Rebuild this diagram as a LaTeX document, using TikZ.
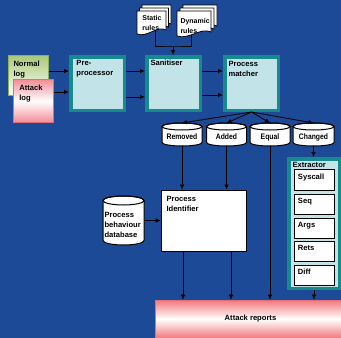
\documentclass[tikz,border=0pt]{standalone}
\usepackage{fontspec}
\setmainfont{Liberation Sans}
\newfontfamily\narrowfont[FakeStretch=0.85]{Liberation Sans}
\usetikzlibrary{arrows.meta,calc}
\definecolor{bg}{RGB}{28,74,150}
\definecolor{tealb}{RGB}{22,138,140}
\definecolor{lcyan}{RGB}{194,228,232}
\definecolor{oliveb}{RGB}{140,178,84}
\definecolor{lgreen}{RGB}{170,200,120}
\definecolor{pinkb}{RGB}{226,110,120}
\definecolor{pinkf}{RGB}{244,140,150}
\definecolor{pinkr}{RGB}{242,120,124}
\newcommand\mydoc[4]{%
  \filldraw[fill=white,draw=black,line width=0.8pt] (#1,#2) -- (#1+#3,#2) -- (#1+#3,#2+#4-5)
   .. controls (#1+0.7*#3,#2+#4-10) and (#1+0.35*#3,#2+#4+3) .. (#1,#2+#4-1) -- cycle;}
\newcommand\mycyl[8]{% name, cx, cy, halfw, halfh, ry, label, label y
  \filldraw[fill=white,draw=black,line width=1pt] (#2-#4,#3-#5+#6) -- (#2-#4,#3+#5-#6)
    arc[start angle=180,end angle=0,x radius=#4,y radius=#6] -- (#2+#4,#3-#5+#6)
    arc[start angle=0,end angle=-180,x radius=#4,y radius=#6] -- cycle;
  \draw[line width=1pt] (#2,#3-#5+#6) ellipse[x radius=#4,y radius=#6];
  \node[inner sep=0pt,outer sep=0pt,minimum width={2*#4pt},minimum height={2*#5pt}] (#1) at (#2,#3) {};
  \node[inner sep=0pt,font=\narrowfont\bfseries\fontsize{8}{9}\selectfont,align=center] (#1t) at (#2,#8) {#7};}
\begin{document}
\begin{tikzpicture}[x=1pt,y=-1pt,
  every node/.style={font=\bfseries\fontsize{7.6}{10}\selectfont},
  txt/.style={anchor=north west,inner sep=0pt,outer sep=0pt,align=left},
  small/.style={font=\bfseries\fontsize{7}{10}\selectfont},
  tealbox/.style={draw=tealb,line width=3.5pt,fill=lcyan,inner sep=0pt,minimum width=53.5pt,minimum height=53.5pt},
  subbox/.style={draw=black,fill=white,line width=1pt,inner sep=0pt,minimum width=40pt},
  arr/.style={-{Latex[length=5pt,width=4.5pt]},line width=0.8pt,black},
  ln/.style={line width=0.8pt,black}]
\fill[bg] (0,0) rectangle (341,338);
\useasboundingbox (0,0) rectangle (341,338);
% rules connector
\coordinate (sr) at (155,25);
\coordinate (dr) at (191,25);
\coordinate (jn) at (173,46);
\draw[ln] (sr) |- (jn) -| (dr);
% documents
\mydoc{142}{5}{29}{24}
\mydoc{139.5}{8}{29}{24}
\mydoc{137}{11}{29}{24}
\node[txt,small] (srt) at (142.5,15.5) {Static\\rules};
\mydoc{183}{5}{34}{26}
\mydoc{180}{8}{34}{26}
\mydoc{177}{11}{34}{26}
\node[txt,small] (drt) at (180.5,18) {Dynamic\\rules};
% boxes
\node[tealbox] (pre) at (97.5,83.5) {};
\node[tealbox] (san) at (173.5,83.5) {};
\node[tealbox] (pm) at (251.5,83.5) {};
\node[txt] (pret) at (76.5,60) {Pre-\\processor};
\node[txt] (sant) at (150.5,60) {Sanitiser};
\node[txt] (pmt) at (228.5,61) {Process\\matcher};
\draw[arr] (jn) -- (jn |- san.north);
% logs
\node[draw=oliveb,line width=1pt,top color=lgreen,bottom color=white,minimum width=40pt,minimum height=40pt,inner sep=0pt] (nlog) at (28.5,75.5) {};
\node[txt] (nlogt) at (13.5,60.5) {Normal\\log};
\node[draw=pinkb,line width=1pt,top color=pinkf,bottom color=pinkf,middle color=white,minimum width=40pt,minimum height=43pt,inner sep=0pt] (alog) at (33.5,101) {};
\node[txt] (alogt) at (19.3,85.3) {Attack\\log};
\draw[arr] (nlog.east |- 0,71) -- (pre.west |- 0,71);
\draw[arr] (alog.east |- 0,92) -- (pre.west |- 0,92);
\draw[arr] (pre.east |- 0,71) -- (san.west |- 0,71);
\draw[arr] (pre.east |- 0,97) -- (san.west |- 0,97);
\draw[arr] (san.east |- 0,71) -- (pm.west |- 0,71);
\draw[arr] (san.east |- 0,95) -- (pm.west |- 0,95);
% cylinders
\mycyl{rem}{182}{134.5}{20}{11.5}{3.5}{Removed}{137}
\mycyl{add}{226.5}{134.5}{20}{11.5}{3.5}{Added}{137}
\mycyl{equ}{270}{134.5}{20}{11.5}{3.5}{Equal}{137}
\mycyl{chg}{313.5}{134.5}{20.5}{11.5}{3.5}{Changed}{137}
\foreach \c in {rem,add,equ,chg} \draw[arr] (pm.south) -- (\c.north);
% process identifier
\node[draw=black,fill=white,line width=0.8pt,minimum width=85pt,minimum height=61pt,inner sep=0pt] (pid) at (203.5,220.5) {};
\node[txt] (pidt) at (166.5,196.5) {Process\\Identifier};
\mycyl{db}{123.5}{220.5}{20.5}{24.5}{4.5}{}{226}
\node[txt] (dbt) at (104.5,212) {Process\\behaviour\\database};
\draw[arr] (db.east) -- (pid.west);
% extractor
\node[draw=tealb,line width=3.5pt,fill=lcyan,minimum width=50.5pt,minimum height=129.5pt,inner sep=0pt] (ext) at (314,223.5) {};
\node[txt] (extt) at (292.5,162.5) {Extractor};
\node[subbox,minimum height=21pt] (sys) at (314.5,179.5) {};
\node[subbox,minimum height=20pt] (seq) at (314.5,204) {};
\node[subbox,minimum height=20pt] (args) at (314.5,228) {};
\node[subbox,minimum height=20pt] (rets) at (314.5,251.5) {};
\node[subbox,minimum height=20pt] (diff) at (314.5,275) {};
\node[txt] (syst) at (298,173.5) {Syscall};
\node[txt] (seqt) at (298,198) {Seq};
\node[txt] (argst) at (298,222) {Args};
\node[txt] (retst) at (298,245.5) {Rets};
\node[txt] (difft) at (298,269) {Diff};
% attack reports
\node[draw=pinkb,line width=0.6pt,top color=pinkr,bottom color=pinkr,middle color=white,minimum width=190pt,minimum height=38pt,inner sep=0pt] (rep) at (250.5,319) {};
\node[inner sep=0pt] (rept) at (250.5,319) {Attack reports};
% vertical connectors
\draw[arr] (rem.south) -- (rem.south |- pid.north);
\draw[arr] (add.south) -- (add.south |- pid.north);
\draw[arr] (equ.south) -- (equ.south |- rep.north);
\draw[arr] (chg.south) -- (chg.south |- ext.north);
\draw[arr] (pid.south -| 183,0) -- (rep.north -| 183,0);
\draw[arr] (pid.south -| 231,0) -- (rep.north -| 231,0);
\draw[arr] (ext.south) -- (ext.south |- rep.north);
\end{tikzpicture}
\end{document}
